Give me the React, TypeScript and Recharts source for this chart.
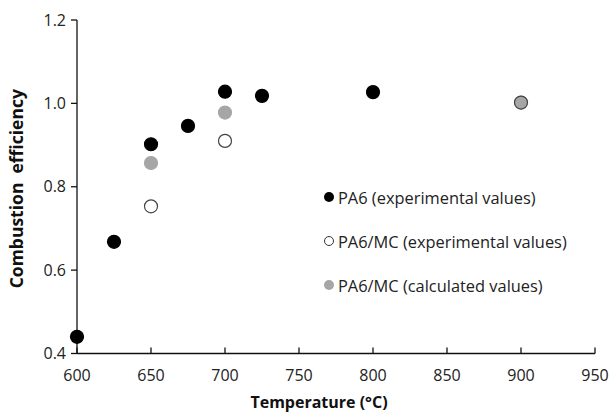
import React from "react";
import {
  ScatterChart,
  Scatter,
  XAxis,
  YAxis,
  Legend,
  Label,
} from "recharts";

const pa6Temps = [600, 625, 650, 675, 700, 725, 800];
const pa6Values = [0.44, 0.668, 0.902, 0.946, 1.028, 1.018, 1.027];

const mcExpTemps = [650, 700, 900];
const mcExpValues = [0.753, 0.91, 1.002];

const mcCalcTemps = [650, 700, 900];
const mcCalcValues = [0.857, 0.978, 1.002];

const xTicks = [600, 650, 700, 750, 800, 850, 900, 950];
const yTicks = [0.4, 0.6, 0.8, 1.0, 1.2];

const legendItems = [
  { label: "PA6 (experimental values)", kind: "black" },
  { label: "PA6/MC (experimental values)", kind: "open" },
  { label: "PA6/MC (calculated values)", kind: "gray" },
];

const toPoints = (xs: number[], ys: number[]) =>
  xs.map((t, i) => ({ temp: t, eff: ys[i] }));

const pa6Data = toPoints(pa6Temps, pa6Values);
const mcExpData = toPoints(mcExpTemps, mcExpValues);
const mcCalcData = toPoints(mcCalcTemps, mcCalcValues);

const FONT = "'Open Sans', sans-serif";

const dot = (fill: string, stroke: string) => (props: any) => (
  <circle
    cx={props.cx}
    cy={props.cy}
    r={6.5}
    fill={fill}
    stroke={stroke}
    strokeWidth={1.2}
  />
);

// x ticks point up into the plot
const XTick = (props: any) => {
  const { x, y, payload } = props;
  return (
    <g>
      <line x1={x} y1={y} x2={x} y2={y - 6} stroke="#111" strokeWidth={1.3} />
      <text
        x={x}
        y={y + 27}
        textAnchor="middle"
        fontFamily={FONT}
        fontSize={16}
        fill="#222"
      >
        {payload.value}
      </text>
    </g>
  );
};

const renderLegend = () => (
  <div style={{ fontFamily: FONT, fontSize: 16.4, color: "#222" }}>
    {legendItems.map((it) => (
      <div
        key={it.label}
        style={{ display: "flex", alignItems: "center", height: 44 }}
      >
        <span
          style={{
            display: "inline-block",
            width: 10,
            height: 10,
            borderRadius: "50%",
            boxSizing: "border-box",
            marginRight: 4,
            background:
              it.kind === "black" ? "#000" : it.kind === "gray" ? "#a6a6a6" : "#fff",
            border: it.kind === "open" ? "1px solid #333" : "none",
          }}
        />
        <span>{it.label}</span>
      </div>
    ))}
  </div>
);

export default function App() {
  return (
    <div style={{ position: "absolute", left: 0, top: 0, background: "#fff" }}>
      <ScatterChart
        width={613}
        height={413}
        margin={{ top: 20, right: 18, bottom: 0, left: 0 }}
      >
        <XAxis
          type="number"
          dataKey="temp"
          domain={[600, 950]}
          ticks={xTicks}
          interval={0}
          height={59.5}
          axisLine={{ stroke: "#111", strokeWidth: 1.3 }}
          tickLine={false}
          tickSize={0}
          tickMargin={0}
          tick={<XTick />}
        >
          <Label
            value="Temperature (°C)"
            position="insideBottom"
            offset={5}
            dx={-17}
            style={{
              fontFamily: FONT,
              fontSize: 16,
              fontWeight: 700,
              fill: "#111",
            }}
          />
        </XAxis>
        <YAxis
          type="number"
          dataKey="eff"
          domain={[0.4, 1.2]}
          ticks={yTicks}
          interval={0}
          width={77}
          tickFormatter={(v: number) => v.toFixed(1)}
          axisLine={{ stroke: "#111", strokeWidth: 1.3 }}
          tickLine={{ stroke: "#111", strokeWidth: 1.3 }}
          tickSize={6}
          tickMargin={5}
          tick={{ fontFamily: FONT, fontSize: 16, fill: "#222" }}
        >
          <Label
            value={"Combustion \u00A0efficiency"}
            angle={-90}
            position="insideLeft"
            offset={17}
            dy={2}
            style={{
              fontFamily: FONT,
              fontSize: 17.5,
              fontWeight: 700,
              fill: "#111",
              textAnchor: "middle",
            }}
          />
        </YAxis>
        <Legend
          layout="vertical"
          align="center"
          verticalAlign="middle"
          content={renderLegend}
          wrapperStyle={{ left: 324, top: 175, width: 285 }}
        />
        <Scatter
          name="PA6 (experimental values)"
          data={pa6Data}
          shape={dot("#000", "#000")}
          isAnimationActive={false}
        />
        <Scatter
          name="PA6/MC (calculated values)"
          data={mcCalcData}
          shape={dot("#a6a6a6", "#a6a6a6")}
          isAnimationActive={false}
        />
        <Scatter
          name="PA6/MC (experimental values)"
          data={mcExpData}
          shape={dot("none", "#444")}
          isAnimationActive={false}
        />
      </ScatterChart>
    </div>
  );
}
